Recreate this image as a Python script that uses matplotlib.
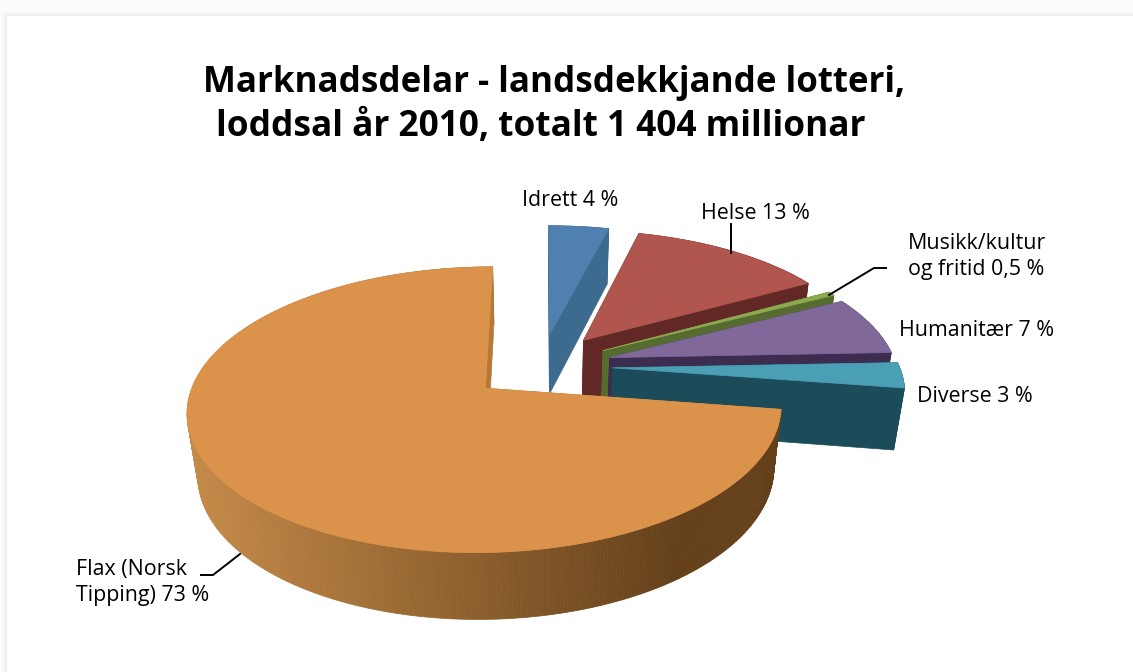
import numpy as np
import matplotlib
matplotlib.use("Agg")
import matplotlib.pyplot as plt
from matplotlib.patches import Polygon, Rectangle
from matplotlib.colors import to_rgb

categories = ["Idrett", "Helse", "Musikk/kultur og fritid", "Humanitær", "Diverse", "Flax (Norsk Tipping)"]
values = [4, 13, 0.5, 7, 3, 73]
top_colors = ["#5080B0", "#B0564E", "#8DAA50", "#80689A", "#4A9FB5", "#DB924B"]
wall_colors = ["#3D6A8F", "#622826", "#566B2F", "#3B2C50", "#1C4C59", "#B87838"]
rim_left = "#C48A48"
rim_right = "#64401A"
label_texts = ["Idrett 4 %", "Helse 13 %", "Musikk/kultur\nog fritid 0,5 %", "Humanitær 7 %", "Diverse 3 %", "Flax (Norsk\nTipping) 73 %"]
title_lines = ["Marknadsdelar - landsdekkjande lotteri,", "loddsal år 2010, totalt 1 404 millionar"]

# projection of the pie, in figure pixels
CX, CY, RX, RY = 541.0, 366.0, 286.5, 133.0
K, M, DEPTH, EXPLODE = 0.147, 0.03, 63.0, 0.25

FONT = "Open Sans"
W, H = 1133, 672

fig = plt.figure(figsize=(W / 100, H / 100), dpi=100, facecolor="#FCFCFC")
ax = fig.add_axes([0, 0, 1, 1])
ax.set_xlim(0, W)
ax.set_ylim(H, 0)
ax.axis("off")

# card with soft shadow
for i, a in enumerate([0.006, 0.008, 0.01, 0.012, 0.014]):
    off = 5 - i
    ax.add_patch(Rectangle((7 - off, 16 - off), W, H, fc="black", ec="none", alpha=a, zorder=0))
ax.add_patch(Rectangle((7, 16), W, H, fc="white", ec="none", zorder=0.5))


def project(X, Y, h):
    s = 1.0 / (1.0 + K * Y + M * h)
    return CX + RX * X * s, CY - RY * Y * s + DEPTH * h * s


def poly(points, color, z):
    ax.add_patch(Polygon(points, closed=True, fc=color, ec=color, lw=0.5, zorder=z, joinstyle="round"))


total = sum(values)
angles = np.cumsum([0] + [v / total * 2 * np.pi for v in values])

for i, v in enumerate(values):
    a0, a1 = angles[i], angles[i + 1]
    mid = (a0 + a1) / 2
    ox, oy = EXPLODE * np.sin(mid), EXPLODE * np.cos(mid)
    th = np.linspace(a0, a1, max(8, int((a1 - a0) * 90)))
    px = ox + np.sin(th)
    py = oy + np.cos(th)
    z = 1 + i
    # radial wall at start
    poly([project(ox, oy, 0), project(px[0], py[0], 0), project(px[0], py[0], 1), project(ox, oy, 1)], wall_colors[i], z)
    # rim
    for j in range(len(th) - 1):
        q = [project(px[j], py[j], 0), project(px[j + 1], py[j + 1], 0),
             project(px[j + 1], py[j + 1], 1), project(px[j], py[j], 1)]
        if i == len(values) - 1:
            t = np.clip((q[0][0] - 190) / (680 - 190), 0, 1)
            c = tuple((1 - t) * np.array(to_rgb(rim_left)) + t * np.array(to_rgb(rim_right)))
        else:
            c = wall_colors[i]
        poly(q, c, z + 0.1)
    # radial wall at end
    poly([project(ox, oy, 0), project(px[-1], py[-1], 0), project(px[-1], py[-1], 1), project(ox, oy, 1)], wall_colors[i], z + 0.2)
    # top face
    top = [project(ox, oy, 0)] + [project(a, b, 0) for a, b in zip(px, py)]
    poly(top, top_colors[i], z + 0.3)

# title
ax.text(203, 92, title_lines[0], fontsize=25.1, fontweight="bold", family=FONT, color="black", ha="left", va="baseline", zorder=10)
ax.text(216, 136, title_lines[1], fontsize=25.4, fontweight="bold", family=FONT, color="black", ha="left", va="baseline", zorder=10)

# labels
label_pos = [(522, 206), (701, 219), (908, 249), (899, 336), (917, 402), (76, 575)]
for (x, y), t in zip(label_pos, label_texts):
    lines = t.split("\n")
    for n, line in enumerate(lines):
        ax.text(x, y + n * 26, line, fontsize=15.4, family=FONT, color="black", ha="left", va="baseline", zorder=10)

# leader lines
leaders = [[(731, 224), (731, 253)],
           [(829, 295), (874, 268), (886, 268)],
           [(240, 554), (213, 575), (201, 575)]]
for pts in leaders:
    xs, ys = zip(*pts)
    ax.plot(xs, ys, color="black", lw=1.4, zorder=11, solid_joinstyle="miter")

fig.savefig("out.png", dpi=100, facecolor=fig.get_facecolor())
